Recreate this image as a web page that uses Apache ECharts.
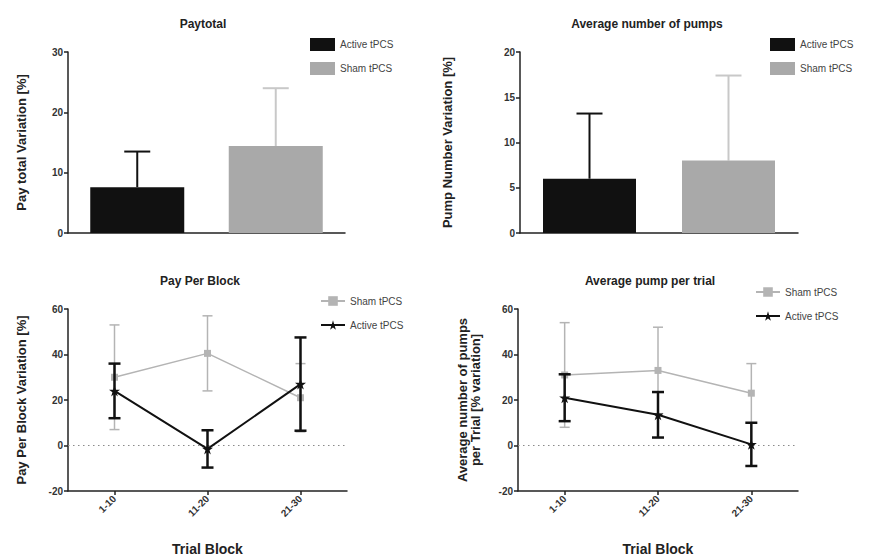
<!DOCTYPE html>
<html>
<head>
<meta charset="utf-8">
<script src="https://cdn.jsdelivr.net/npm/echarts@6/dist/echarts.min.js"></script>
<style>
  html, body { margin: 0; padding: 0; background: #fff; }
  #chart { width: 872px; height: 558px; }
</style>
</head>
<body>
<div id="chart"></div>
<script>
// bar panels
const barGroups = ['Active tPCS', 'Sham tPCS']
const payTotalMean = [7.6, 14.4]
const payTotalSd = [5.9, 9.6]
const pumpsMean = [6.0, 8.0]
const pumpsSd = [7.2, 9.4]

// line panels
const trialBlocks = ['1-10', '11-20', '21-30']
const payBlockSham = [30, 40.5, 21]
const payBlockShamSd = [23, 16.5, 15]
const payBlockActive = [24, -1.5, 27]
const payBlockActiveSd = [12, 8.2, 20.5]
const pumpTrialSham = [31, 33, 23]
const pumpTrialShamSd = [23, 19, 13]
const pumpTrialActive = [21, 13.5, 0.5]
const pumpTrialActiveSd = [10.3, 10, 9.5]

const BLACK = '#111'
const GREY_BAR = '#a9a9a9'
const GREY_LINE = '#b4b4b4'
const FONT = 'Liberation Sans, Arial, sans-serif'
const STAR = 'path://M50,0 L61,35 L98,35 L68,57 L79,91 L50,70 L21,91 L32,57 L2,35 L39,35 Z'

const chart = echarts.init(document.getElementById('chart'), null, { renderer: 'svg' })

// error bar drawn with custom series; data rows are [index, low, high]
function errorBar(color, width, cap, both) {
  return function (params, api) {
    const x = api.value(0)
    const hi = api.coord([x, api.value(2)])
    const lo = api.coord([x, api.value(1)])
    const h = cap / 2
    const style = { stroke: color, lineWidth: width }
    const children = [
      { type: 'line', shape: { x1: hi[0], y1: hi[1], x2: lo[0], y2: lo[1] }, style },
      { type: 'line', shape: { x1: hi[0] - h, y1: hi[1], x2: hi[0] + h, y2: hi[1] }, style }
    ]
    if (both) {
      children.push({ type: 'line', shape: { x1: lo[0] - h, y1: lo[1], x2: lo[0] + h, y2: lo[1] }, style })
    }
    return { type: 'group', children }
  }
}

function errSeries(idx, rows, color, width, cap, both, z) {
  return {
    type: 'custom',
    name: 'err' + idx + color + z,
    xAxisIndex: idx,
    yAxisIndex: idx,
    renderItem: errorBar(color, width, cap, both),
    encode: { x: 0, y: [1, 2] },
    data: rows,
    silent: true,
    z: z
  }
}

const upperRows = (means, sds, i) => [[i, means[i], means[i] + sds[i]]]
const bothRows = (means, sds) => means.map((m, i) => [i, m - sds[i], m + sds[i]])

const tickLabel = { fontSize: 10, fontWeight: 'bold', color: '#333', fontFamily: FONT }
const axisName = { fontSize: 13, fontWeight: 'bold', color: '#222', fontFamily: FONT }
const axisLine = { show: true, onZero: false, lineStyle: { color: '#222', width: 1.5 } }

function yAxis(idx, min, max, interval, name, gap) {
  return {
    gridIndex: idx, type: 'value', min, max, interval,
    name, nameLocation: 'middle', nameGap: gap, nameTextStyle: axisName,
    axisLine, axisTick: { show: true, length: 4, lineStyle: { color: '#222', width: 1.5 } },
    axisLabel: Object.assign({ margin: 5 }, tickLabel),
    splitLine: { show: false }
  }
}

function barX(idx) {
  return {
    gridIndex: idx, type: 'category', data: barGroups,
    axisLine, axisTick: { show: false }, axisLabel: { show: false }
  }
}

function blockX(idx) {
  return {
    gridIndex: idx, type: 'category', data: trialBlocks,
    name: 'Trial Block', nameLocation: 'middle', nameGap: 51,
    nameTextStyle: Object.assign({}, axisName, { fontSize: 14 }),
    axisLine, axisTick: { show: true, alignWithLabel: true, length: 4, lineStyle: { color: '#222', width: 1.5 } },
    axisLabel: Object.assign({ rotate: 45, margin: 6 }, tickLabel)
  }
}

const zeroLine = {
  silent: true, symbol: 'none', label: { show: false },
  lineStyle: { type: [1.5, 3.5], color: '#8a8a8a', width: 1 },
  data: [{ yAxis: 0 }]
}

function lineSeries(idx, name, values, color, width, symbol, size, withZero) {
  const s = {
    type: 'line', name, xAxisIndex: idx, yAxisIndex: idx, data: values,
    symbol, symbolSize: size,
    itemStyle: { color },
    lineStyle: { color, width },
    z: name.startsWith('Active') ? 6 : 3
  }
  if (withZero) s.markLine = zeroLine
  return s
}

const titleStyle = { fontSize: 12, fontWeight: 'bold', color: '#222', fontFamily: FONT }
const legendText = { fontSize: 10, color: '#444', fontFamily: FONT }

const option = {
  animation: false,
  backgroundColor: '#fff',
  title: [
    { text: 'Paytotal', left: 203, top: 18, textAlign: 'center', padding: 0, textStyle: titleStyle },
    { text: 'Average number of pumps', left: 647, top: 18, textAlign: 'center', padding: 0, textStyle: titleStyle },
    { text: 'Pay Per Block', left: 200, top: 275, textAlign: 'center', padding: 0, textStyle: titleStyle },
    { text: 'Average pump per trial', left: 650, top: 275, textAlign: 'center', padding: 0, textStyle: titleStyle }
  ],
  legend: [
    { data: ['Active tPCS', 'Sham tPCS'], left: 310, top: 38, orient: 'vertical', padding: 0,
      icon: 'rect', itemWidth: 25, itemHeight: 13, itemGap: 11, textStyle: legendText, selectedMode: false },
    { data: ['Active tPCS', 'Sham tPCS'], left: 770, top: 38, orient: 'vertical', padding: 0,
      icon: 'rect', itemWidth: 25, itemHeight: 13, itemGap: 11, textStyle: legendText, selectedMode: false },
    { data: ['Sham tPCS ', 'Active tPCS '], left: 320, top: 296, orient: 'vertical', padding: 0,
      itemWidth: 24, itemHeight: 12, itemGap: 14, textStyle: legendText, selectedMode: false,
      formatter: n => n.trim() },
    { data: ['Sham tPCS  ', 'Active tPCS  '], left: 755, top: 287, orient: 'vertical', padding: 0,
      itemWidth: 24, itemHeight: 12, itemGap: 14, textStyle: legendText, selectedMode: false,
      formatter: n => n.trim() }
  ],
  grid: [
    { left: 68, top: 52, width: 277, height: 181 },
    { left: 520, top: 52, width: 278, height: 181 },
    { left: 68, top: 309, width: 279, height: 182 },
    { left: 518, top: 309, width: 280, height: 182 }
  ],
  xAxis: [barX(0), barX(1), blockX(2), blockX(3)],
  yAxis: [
    yAxis(0, 0, 30, 10, 'Pay total Variation [%]', 40),
    yAxis(1, 0, 20, 5, 'Pump Number Variation [%]', 66),
    yAxis(2, -20, 60, 20, 'Pay Per Block Variation [%]', 40),
    yAxis(3, -20, 60, 20, 'Average number of pumps\nper Trial [% variation]', 36)
  ],
  series: [
    // Paytotal
    { type: 'bar', name: 'Active tPCS', xAxisIndex: 0, yAxisIndex: 0, barWidth: 94, barGap: '-100%',
      itemStyle: { color: BLACK }, data: [payTotalMean[0], '-'] },
    { type: 'bar', name: 'Sham tPCS', xAxisIndex: 0, yAxisIndex: 0, barWidth: 94, barGap: '-100%',
      itemStyle: { color: GREY_BAR }, data: ['-', payTotalMean[1]] },
    errSeries(0, upperRows(payTotalMean, payTotalSd, 0), BLACK, 2, 26, false, 1),
    errSeries(0, upperRows(payTotalMean, payTotalSd, 1), '#c8c8c8', 2, 26, false, 1),
    // Average number of pumps
    { type: 'bar', name: 'Active tPCS', xAxisIndex: 1, yAxisIndex: 1, barWidth: 93, barGap: '-100%',
      itemStyle: { color: BLACK }, data: [pumpsMean[0], '-'] },
    { type: 'bar', name: 'Sham tPCS', xAxisIndex: 1, yAxisIndex: 1, barWidth: 93, barGap: '-100%',
      itemStyle: { color: GREY_BAR }, data: ['-', pumpsMean[1]] },
    errSeries(1, upperRows(pumpsMean, pumpsSd, 0), BLACK, 2, 26, false, 1),
    errSeries(1, upperRows(pumpsMean, pumpsSd, 1), '#c8c8c8', 2, 26, false, 1),
    // Pay Per Block
    errSeries(2, bothRows(payBlockSham, payBlockShamSd), GREY_LINE, 1.5, 10, true, 2),
    lineSeries(2, 'Sham tPCS ', payBlockSham, GREY_LINE, 1.5, 'rect', 7, true),
    errSeries(2, bothRows(payBlockActive, payBlockActiveSd), BLACK, 2.5, 12, true, 5),
    lineSeries(2, 'Active tPCS ', payBlockActive, BLACK, 2, STAR, 11, false),
    // Average pump per trial
    errSeries(3, bothRows(pumpTrialSham, pumpTrialShamSd), GREY_LINE, 1.5, 10, true, 2),
    lineSeries(3, 'Sham tPCS  ', pumpTrialSham, GREY_LINE, 1.5, 'rect', 7, true),
    errSeries(3, bothRows(pumpTrialActive, pumpTrialActiveSd), BLACK, 2.5, 12, true, 5),
    lineSeries(3, 'Active tPCS  ', pumpTrialActive, BLACK, 2, STAR, 11, false)
  ]
}

chart.setOption(option)
</script>
</body>
</html>
